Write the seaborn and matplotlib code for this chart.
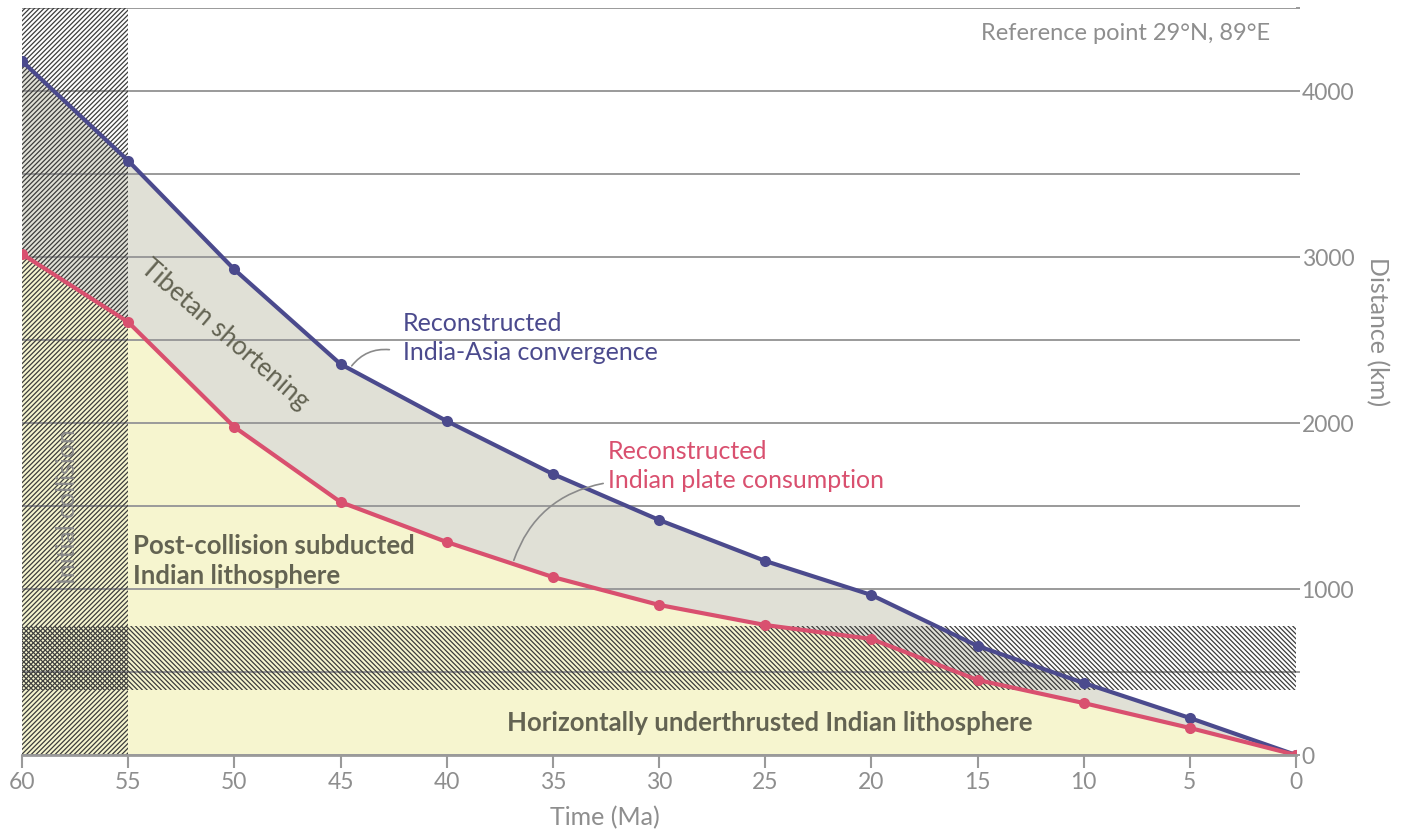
import matplotlib
matplotlib.use("Agg")
import matplotlib.pyplot as plt
import seaborn as sns
import pandas as pd
import numpy as np

# ---- data ----
time_ma = [60, 55, 50, 45, 40, 35, 30, 25, 20, 15, 10, 5, 0]
convergence_km = [4180, 3580, 2925, 2355, 2012, 1693, 1416, 1169, 964, 657, 434, 223, 0]
consumption_km = [3018, 2608, 1976, 1524, 1283, 1072, 904, 783, 699, 452, 313, 163, 0]
x_ticks = [60, 55, 50, 45, 40, 35, 30, 25, 20, 15, 10, 5, 0]
y_grid = [0, 500, 1000, 1500, 2000, 2500, 3000, 3500, 4000, 4500]
y_labels = ["0", "", "1000", "", "2000", "", "3000", "", "4000", ""]
collision_band = (55, 60)
underthrust_band = (390, 780)

BLUE = "#4b4a8d"
PINK = "#d9506f"
YELLOW = "#f6f5cf"
GREYFILL = "#e0e0d6"
TXT = "#636352"
AX = "#8e8e8e"

sns.set_theme(style="white")
plt.rcParams["font.family"] = ["Lato", "DejaVu Sans"]
plt.rcParams["hatch.linewidth"] = 0.9

df = pd.DataFrame({"time": time_ma, "conv": convergence_km, "cons": consumption_km})

fig = plt.figure(figsize=(14.08, 8.39), dpi=100)
ax = fig.add_axes([22 / 1408, 1 - 755 / 839, (1296 - 22) / 1408, (755 - 8) / 839])

# fills
ax.fill_between(df["time"], 0, df["cons"], color=YELLOW, lw=0, zorder=1)
ax.fill_between(df["time"], df["cons"], df["conv"], color=GREYFILL, lw=0, zorder=1)

# grid
for yv in y_grid:
    ax.axhline(yv, color="#9a9a9a", lw=1.4, zorder=2)

# hatched bands
ax.axvspan(collision_band[0], collision_band[1], ymin=0, ymax=1, facecolor="none",
           edgecolor="#3c3c3c", hatch="/" * 7, lw=0, zorder=3)
ax.axhspan(underthrust_band[0], underthrust_band[1], xmin=-0.003, xmax=1, facecolor="none",
           edgecolor="#3c3c3c", hatch="\\" * 7, lw=0, zorder=3)

# lines
sns.lineplot(data=df, x="time", y="conv", color=BLUE, lw=3, marker="o", markersize=8,
             markeredgewidth=0, ax=ax, zorder=5)
sns.lineplot(data=df, x="time", y="cons", color=PINK, lw=3, marker="o", markersize=8,
             markeredgewidth=0, ax=ax, zorder=5)

ax.set_xlim(60, 0)
ax.set_ylim(0, 4500)

for s in ["top", "left", "right"]:
    ax.spines[s].set_visible(False)
ax.spines["bottom"].set_color("#9a9a9a")
ax.spines["bottom"].set_linewidth(2)
ax.spines["bottom"].set_zorder(6)

ax.set_xticks(x_ticks)
ax.set_xticklabels([str(v) for v in x_ticks])
ax.tick_params(axis="x", bottom=True, length=9, width=1.5, color="#9a9a9a",
               labelcolor=AX, labelsize=16.5, pad=3)
ax.yaxis.tick_right()
ax.set_yticks(y_grid)
ax.set_yticklabels(y_labels)
ax.tick_params(axis="y", right=True, length=3, width=1.4, color="#9a9a9a",
               labelcolor=AX, labelsize=16.5, pad=1)
ax.set_xlabel("")
ax.set_ylabel("")

ax.text(0.4576, -0.084, "Time (Ma)", transform=ax.transAxes, ha="center", va="center",
        color=AX, fontsize=18)
ax.text((1377 - 22) / 1274, (755 - 332) / 747, "Distance (km)", transform=ax.transAxes,
        ha="center", va="center", rotation=-90, color=AX, fontsize=18)

# annotations
ax.text(1.22, 4349, "Reference point 29°N, 89°E", ha="right", va="center", color=AX, fontsize=17)
ax.text(42.06, 2512, "Reconstructed\nIndia-Asia convergence", ha="left", va="center",
        color=BLUE, fontsize=18, linespacing=1.3, zorder=7)
ax.text(32.4, 1741, "Reconstructed\nIndian plate consumption", ha="left", va="center",
        color=PINK, fontsize=18, linespacing=1.3, zorder=7)
ax.text(50.44, 2530, "Tibetan shortening", ha="center", va="center", rotation=-41,
        rotation_mode="anchor", color=TXT, fontsize=18.5, zorder=7)
ax.text(57.88, 1494, "Initial collision", ha="center", va="center", rotation=90,
        color="#8a8a8a", fontsize=18, zorder=7)
ax.text(54.77, 1169, "Post-collision subducted\nIndian lithosphere", ha="left", va="center",
        color=TXT, fontsize=18.5, fontweight="bold", linespacing=1.3, zorder=7)
ax.text(24.77, 193, "Horizontally underthrusted Indian lithosphere", ha="center", va="center",
        color=TXT, fontsize=18.5, fontweight="bold", zorder=7)

ax.annotate("", xy=(44.55, 2331), xytext=(42.57, 2440),
            arrowprops=dict(arrowstyle="-", color="#8a8a8a", lw=1.2,
                            connectionstyle="arc3,rad=0.3"), zorder=7)
ax.annotate("", xy=(36.88, 1157), xytext=(32.5, 1639),
            arrowprops=dict(arrowstyle="-", color="#8a8a8a", lw=1.2,
                            connectionstyle="arc3,rad=0.3"), zorder=7)

fig.savefig("out.png", dpi=100)
